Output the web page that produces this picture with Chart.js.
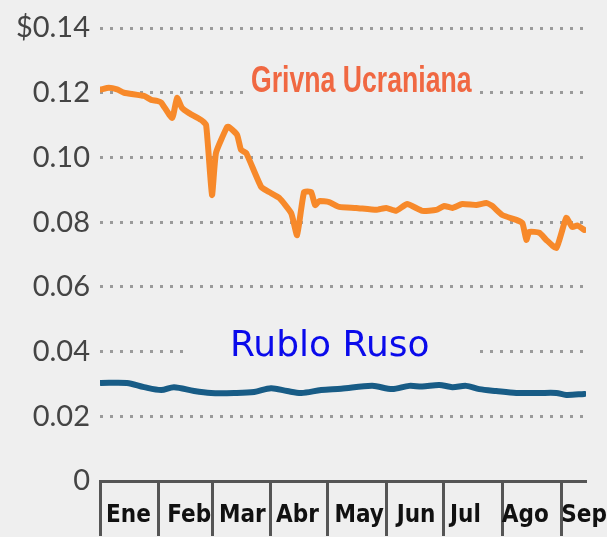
<!DOCTYPE html>
<html>
<head>
<meta charset="utf-8">
<script src="https://cdn.jsdelivr.net/npm/chart.js@4"></script>
<style>
  html, body { margin: 0; padding: 0; background: #efefef; }
  #wrap { width: 607px; height: 537px; }
</style>
</head>
<body>
<div id="wrap"><canvas id="fx"></canvas></div>
<script>
// days counted from 1 Jan
var monthNames = ['Ene', 'Feb', 'Mar', 'Abr', 'May', 'Jun', 'Jul', 'Ago', 'Sep'];
var monthStarts = [0, 31, 59, 90, 120, 151, 181, 212, 243];
var monthLabelDays = [15, 47, 75, 104, 136.5, 166.5, 192.5, 224, 255];
var yTicks = [0, 0.02, 0.04, 0.06, 0.08, 0.10, 0.12, 0.14];

var grivnaDays = [0.5, 4.7, 9, 12.7, 23.2, 26.9, 30, 32.2, 38, 40.6, 43.2, 46.9, 53.2, 55.9, 59, 61.1,
  66.9, 68, 72.2, 74.3, 77, 84.9, 89.1, 94.4, 100.7, 103.8, 107.5, 111.2, 113.3, 115.4, 120.7, 126,
  134.9, 145.5, 150.8, 156, 161.8, 169.7, 177.1, 181.3, 185.6, 190.8, 198.2, 203.5, 206.6, 211.9,
  219.3, 222.5, 224.6, 226.1, 231.4, 235.1, 240.4, 245.6, 248.8, 251.4, 255.1];
var grivnaValues = [0.121, 0.1215, 0.121, 0.120, 0.119, 0.1178, 0.1175, 0.117, 0.1122, 0.1184, 0.1153,
  0.1137, 0.1116, 0.110, 0.0884, 0.1014, 0.1094, 0.1094, 0.107, 0.1023, 0.1014, 0.0909, 0.0893, 0.0875,
  0.0828, 0.0760, 0.0893, 0.0893, 0.0853, 0.0865, 0.0862, 0.0847, 0.0844, 0.0838, 0.0844, 0.0835,
  0.0856, 0.0835, 0.0838, 0.085, 0.0844, 0.0856, 0.0853, 0.0859, 0.0850, 0.0822, 0.0807, 0.0797,
  0.0745, 0.077, 0.0767, 0.0745, 0.072, 0.0813, 0.0785, 0.079, 0.0776];

var rubloDays = [0.5, 14.2, 23.2, 32.2, 39, 49.6, 58.5, 70.6, 81.2, 90.1, 98.6, 106, 116.5, 127,
  143.4, 153.9, 162.9, 169.7, 178.7, 185.6, 192.9, 199.8, 208.7, 219.3, 231.4, 240.4, 245.6, 255.1];
var rubloValues = [0.0303, 0.0303, 0.029, 0.0281, 0.029, 0.0278, 0.0272, 0.0272, 0.0275, 0.0287,
  0.0278, 0.0272, 0.0281, 0.0285, 0.0294, 0.0284, 0.0294, 0.0292, 0.0297, 0.029, 0.0294, 0.0284,
  0.0278, 0.0272, 0.0272, 0.0272, 0.0266, 0.0269];

function toPoints(xs, ys) {
  return xs.map(function (x, i) { return { x: x, y: ys[i] }; });
}

// pick a narrow face for the month names if one is installed
function hasFont(name) {
  var c = document.createElement('canvas').getContext('2d');
  var s = 'abcdefghijklmnopqrstuvwxyzEASMJ';
  c.font = '72px monospace';
  var w1 = c.measureText(s).width;
  c.font = '72px "' + name + '", monospace';
  return c.measureText(s).width !== w1;
}
var narrowFace = 'Liberation Sans', monthSize = 23, monthPad = -33;
if (hasFont('Liberation Sans Narrow')) { narrowFace = 'Liberation Sans Narrow'; monthSize = 27; monthPad = -38; }
else if (hasFont('DejaVu Sans Condensed')) { narrowFace = 'DejaVu Sans Condensed'; monthSize = 24; monthPad = -35; }

// text labels sitting on the chart, hiding the dotted grid behind them
var seriesLabels = [
  { text: 'Grivna Ucraniana', day: 137.6, value: 0.1233, color: 'rgb(240,104,66)',
    font: 'bold 37px "Liberation Sans", sans-serif', stretch: 0.72, padX: 4 },
  { text: 'Rublo Ruso', day: 121, value: 0.0414, color: 'rgb(10,10,235)',
    font: 'normal 36px "DejaVu Sans", sans-serif', stretch: 1, padX: 46 }
];

var labelPlugin = {
  id: 'seriesLabels',
  beforeDatasetsDraw: function (chart) {
    var c = chart.ctx;
    var xs = chart.scales.x, ys = chart.scales.y;
    seriesLabels.forEach(function (l) {
      var x = xs.getPixelForValue(l.day);
      var y = ys.getPixelForValue(l.value);
      c.save();
      c.font = l.font;
      var w = c.measureText(l.text).width * l.stretch;
      c.fillStyle = '#efefef';
      c.fillRect(x - w / 2 - l.padX, y - 20, w + 2 * l.padX, 40);
      c.translate(x, y);
      c.scale(l.stretch, 1);
      c.fillStyle = l.color;
      c.textAlign = 'center';
      c.textBaseline = 'middle';
      c.fillText(l.text, 0, 0);
      c.restore();
    });
  }
};

var ctx = document.getElementById('fx').getContext('2d');
var chart = new Chart(ctx, {
  type: 'line',
  data: {
    datasets: [{
      label: 'Grivna Ucraniana',
      data: toPoints(grivnaDays, grivnaValues),
      borderColor: 'rgb(247,137,42)',
      borderWidth: 6,
      pointRadius: 0,
      tension: 0.15,
      borderJoinStyle: 'round',
      borderCapStyle: 'round'
    }, {
      label: 'Rublo Ruso',
      data: toPoints(rubloDays, rubloValues),
      borderColor: 'rgb(24,92,134)',
      borderWidth: 6,
      pointRadius: 0,
      tension: 0.3,
      borderJoinStyle: 'round',
      borderCapStyle: 'round'
    }]
  },
  options: {
    maintainAspectRatio: false,
    responsive: true,
    animation: false,
    layout: { padding: { top: 28, right: 21, left: 0, bottom: 0 } },
    plugins: {
      legend: { display: false },
      tooltip: { enabled: false }
    },
    scales: {
      x: {
        type: 'linear',
        min: 0,
        max: 256,
        afterBuildTicks: function (axis) {
          var vals = monthStarts.concat(monthLabelDays).sort(function (a, b) { return a - b; });
          axis.ticks = vals.map(function (v) { return { value: v }; });
        },
        afterFit: function (axis) { axis.height = 56; },
        border: { display: true, color: '#555', width: 3 },
        grid: {
          drawOnChartArea: false,
          drawTicks: true,
          tickLength: 55,
          tickWidth: 3,
          tickColor: function (c) {
            return c.tick && monthStarts.indexOf(c.tick.value) >= 0 ? '#555' : 'rgba(0,0,0,0)';
          }
        },
        ticks: {
          autoSkip: false,
          maxRotation: 0,
          padding: monthPad,
          color: '#111',
          font: { family: '"' + narrowFace + '", sans-serif', size: monthSize, weight: 'bold' },
          callback: function (value) {
            var i = monthLabelDays.indexOf(value);
            return i >= 0 ? monthNames[i] : '';
          }
        }
      },
      y: {
        min: 0,
        max: 0.14,
        afterBuildTicks: function (axis) {
          axis.ticks = yTicks.map(function (v) { return { value: v }; });
        },
        afterFit: function (axis) { axis.width = 100; },
        border: { display: false, dash: [3, 7] },
        grid: {
          drawTicks: false,
          lineWidth: 3,
          color: function (c) {
            return c.tick && c.tick.value === 0 ? 'rgba(0,0,0,0)' : '#9a9a9a';
          }
        },
        ticks: {
          padding: 10,
          color: '#444',
          font: { family: 'Lato, sans-serif', size: 29 },
          callback: function (value) {
            if (value === 0) return '0';
            if (value >= 0.139) return '$0.14';
            return value.toFixed(2);
          }
        }
      }
    }
  },
  plugins: [labelPlugin]
});
</script>
</body>
</html>
